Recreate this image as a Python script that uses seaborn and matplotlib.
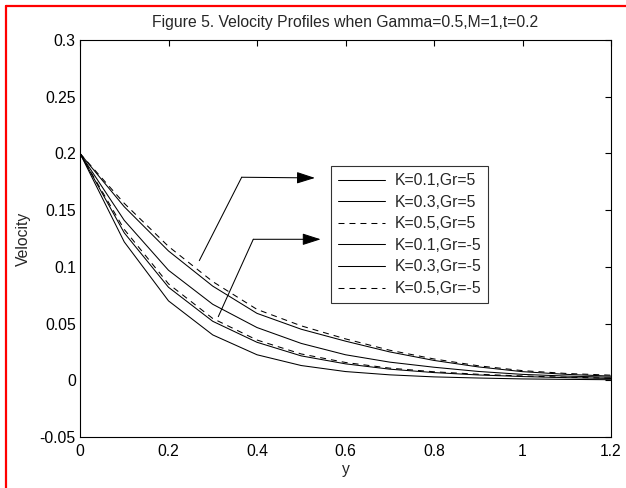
import numpy as np
import pandas as pd
import matplotlib
matplotlib.use("Agg")
import matplotlib.pyplot as plt
from matplotlib.lines import Line2D
from matplotlib.ticker import FuncFormatter
import seaborn as sns

# ---- data ----
y_pos = [0.0, 0.1, 0.2, 0.3, 0.4, 0.5, 0.6, 0.7, 0.8, 0.9, 1.0, 1.1, 1.2]
k01_gr5 = [0.2, 0.141, 0.097, 0.067, 0.0465, 0.0325, 0.0225, 0.0160, 0.0115, 0.0078, 0.0052, 0.0037, 0.0027]
k03_gr5 = [0.2, 0.153, 0.114, 0.083, 0.059, 0.045, 0.0345, 0.025, 0.0175, 0.0118, 0.0076, 0.0052, 0.0037]
k05_gr5 = [0.2, 0.156, 0.118, 0.087, 0.0625, 0.048, 0.0365, 0.0265, 0.0188, 0.0128, 0.0085, 0.0060, 0.0045]
k01_grm5 = [0.2, 0.122, 0.070, 0.040, 0.0225, 0.013, 0.0077, 0.0048, 0.0030, 0.0020, 0.0012, 0.0008, 0.0005]
k03_grm5 = [0.2, 0.130, 0.082, 0.052, 0.0335, 0.0215, 0.0145, 0.0098, 0.0068, 0.0047, 0.0033, 0.0023, 0.0016]
k05_grm5 = [0.2, 0.133, 0.085, 0.0545, 0.0355, 0.0232, 0.0157, 0.0107, 0.0075, 0.0053, 0.0038, 0.0027, 0.0019]

labels = ["K=0.1,Gr=5", "K=0.3,Gr=5", "K=0.5,Gr=5",
          "K=0.1,Gr=-5", "K=0.3,Gr=-5", "K=0.5,Gr=-5"]
series = [k01_gr5, k03_gr5, k05_gr5, k01_grm5, k03_grm5, k05_grm5]
dashed = [False, False, True, False, False, True]

x_ticks = [0, 0.2, 0.4, 0.6, 0.8, 1.0, 1.2]
y_ticks = [-0.05, 0, 0.05, 0.1, 0.15, 0.2, 0.25, 0.3]

# ---- style ----
sns.set_theme(style="white")
plt.rcParams["font.family"] = ["Liberation Sans", "DejaVu Sans"]
plt.rcParams["font.size"] = 11.3
plt.rcParams["lines.scale_dashes"] = False

fig = plt.figure(figsize=(6.26, 4.88), dpi=100)
fig.patch.set_facecolor("white")
ax = fig.add_axes([80 / 626, 1 - 437 / 488, 531 / 626, 397 / 488])

for vals, lab, d in zip(series, labels, dashed):
    sns.lineplot(x=y_pos, y=vals, ax=ax, color="black", linewidth=0.75,
                 label=lab, linestyle=(0, (4.3, 3.6)) if d else "-")

ax.set_xlim(0, 1.2)
ax.set_ylim(-0.05, 0.3)
ax.set_xticks(x_ticks)
ax.set_yticks(y_ticks)
fmt = FuncFormatter(lambda v, p: ("%g" % round(v, 4)))
ax.xaxis.set_major_formatter(fmt)
ax.yaxis.set_major_formatter(fmt)
ax.tick_params(direction="in", length=4, width=0.8, top=True, right=True,
               labelsize=11.3, colors="black", pad=3)
ax.tick_params(axis="x", pad=5)
for s in ax.spines.values():
    s.set_visible(True)
    s.set_color("black")
    s.set_linewidth(0.8)

ax.set_xlabel("y", fontsize=11.3, labelpad=2)
ax.set_ylabel("Velocity", fontsize=11.3, labelpad=6)
ax.set_title("Figure 5. Velocity Profiles when Gamma=0.5,M=1,t=0.2",
             fontsize=11.3, pad=9)

leg = ax.legend(loc="upper left", bbox_to_anchor=(0.4727, 0.6826),
                borderaxespad=0, frameon=True, fancybox=False,
                handlelength=3.0, handletextpad=0.6, labelspacing=0.42,
                borderpad=0.45, fontsize=11.3)
leg.get_frame().set_edgecolor("black")
leg.get_frame().set_linewidth(0.8)

# annotation arrows
arrow_paths = [((0.2696, 0.1055), (0.3654, 0.179), (0.531, 0.1784)),
               ((0.3125, 0.0561), (0.3916, 0.1243), (0.544, 0.1243))]
for p0, p1, p2 in arrow_paths:
    ax.plot([p0[0], p1[0]], [p0[1], p1[1]], color="black", lw=0.75)
    ax.annotate("", xy=p2, xytext=p1,
                arrowprops=dict(arrowstyle="-|>,head_length=1.0,head_width=0.32",
                                color="black", lw=0.75, shrinkA=0, shrinkB=0))

# red frame lines (top and left)
fig.add_artist(Line2D([6 / 626, 1.0], [1 - 6 / 488, 1 - 6 / 488],
                      transform=fig.transFigure, color="red", lw=1.6))
fig.add_artist(Line2D([6 / 626, 6 / 626], [0.0, 1 - 6 / 488],
                      transform=fig.transFigure, color="red", lw=1.6))

fig.savefig("out.png", dpi=100)
